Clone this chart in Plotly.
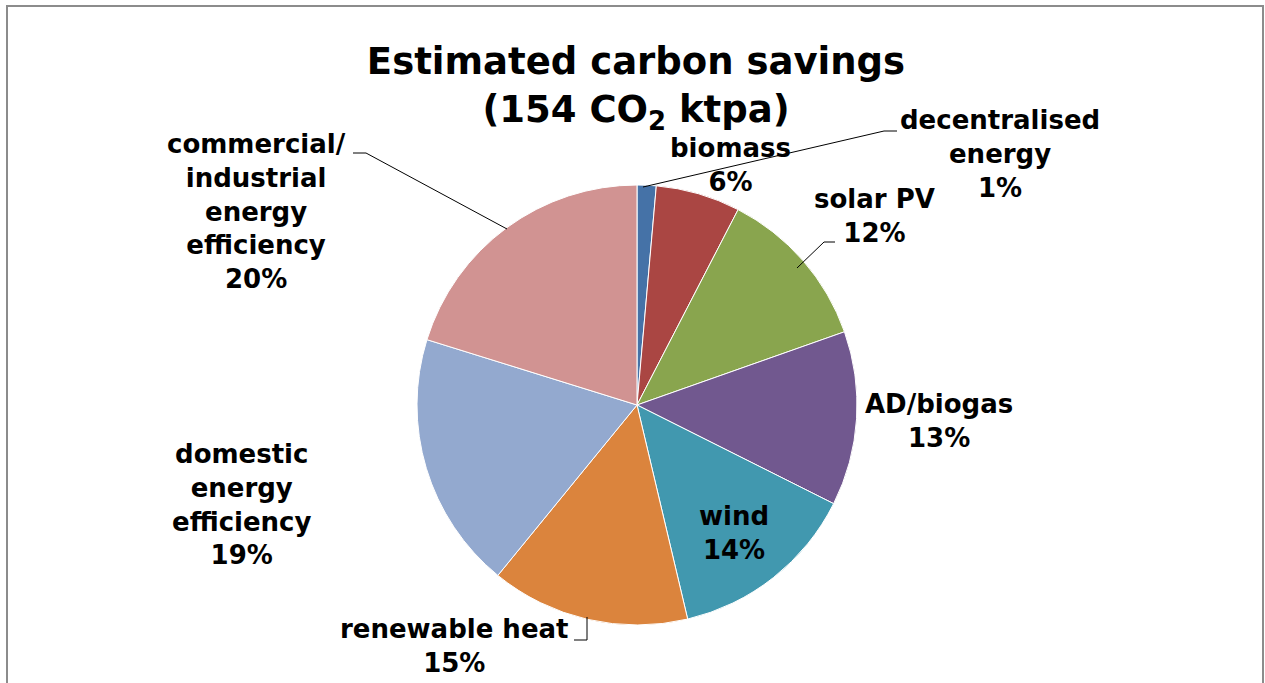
import plotly.graph_objects as go

# ---- data ----
categories = ["decentralised energy", "biomass", "solar PV", "AD/biogas", "wind",
              "renewable heat", "domestic energy efficiency",
              "commercial/ industrial energy efficiency"]
shares = [1.4, 6.2, 12.0, 12.8, 13.9, 14.6, 18.9, 20.2]   # % of 154 ktpa
label_text = ["decentralised<br>energy", "biomass", "solar PV", "AD/biogas", "wind",
              "renewable heat", "domestic<br>energy<br>efficiency",
              "commercial/<br>industrial<br>energy<br>efficiency"]
colors = ["#4572A7", "#AA4643", "#89A54E", "#71588F", "#4198AF",
          "#DB843D", "#93A9CF", "#D19392"]
title_text = "Estimated carbon savings<br>(154 CO<sub>2</sub> ktpa)"

W, H = 1265, 683
def px(x): return x / W
def py(y): return 1 - y / H

cx, cy, r = 637, 405, 220

fig = go.Figure(go.Pie(
    labels=categories, values=shares, sort=False, direction="clockwise", rotation=0,
    marker=dict(colors=colors, line=dict(color="white", width=1)),
    textinfo="none", showlegend=False,
    domain=dict(x=[px(cx - r), px(cx + r)], y=[py(cy + r), py(cy - r)]),
))

font = dict(family="DejaVu Sans, Verdana, sans-serif", size=26, color="black")
total = sum(shares)
label_pos = [(1000, 154), (730, 165), (874, 216), (939, 421), (734, 533),
             (454, 646), (242, 504), (256, 211)]
for txt, v, (x, y) in zip(label_text, shares, label_pos):
    fig.add_annotation(x=px(x), y=py(y), xref="paper", yref="paper",
                       text=f"<b>{txt}<br>{round(v / total * 100)}%</b>",
                       showarrow=False, xanchor="center", yanchor="middle",
                       font=font, align="center")

# leader lines
leaders = [
    [(643, 187), (884, 131), (897, 131)],
    [(507, 229), (366, 153), (353, 153)],
    [(797, 268), (824, 242), (835, 242)],
    [(587, 617), (587, 640), (574, 640)],
]
for pts in leaders:
    path = "M " + " L ".join(f"{px(x)},{py(y)}" for x, y in pts)
    fig.add_shape(type="path", path=path, xref="paper", yref="paper",
                  line=dict(color="black", width=1))

# outer frame
fig.add_shape(type="rect", xref="paper", yref="paper",
              x0=px(7), x1=px(1263), y0=-0.05, y1=py(6),
              line=dict(color="#8c8c8c", width=2))

fig.update_layout(
    width=W, height=H,
    margin=dict(l=0, r=0, t=0, b=0),
    paper_bgcolor="white", plot_bgcolor="white",
    title=dict(text=f"<b>{title_text}</b>", x=px(636), y=py(74),
               xanchor="center", yanchor="middle", xref="paper", yref="paper",
               font=dict(family="DejaVu Sans, Verdana, sans-serif", size=37, color="black")),
)

fig.write_html("out.html", config={"displayModeBar": False},
               post_script="document.body.style.margin='0';document.body.style.overflow='hidden';")
